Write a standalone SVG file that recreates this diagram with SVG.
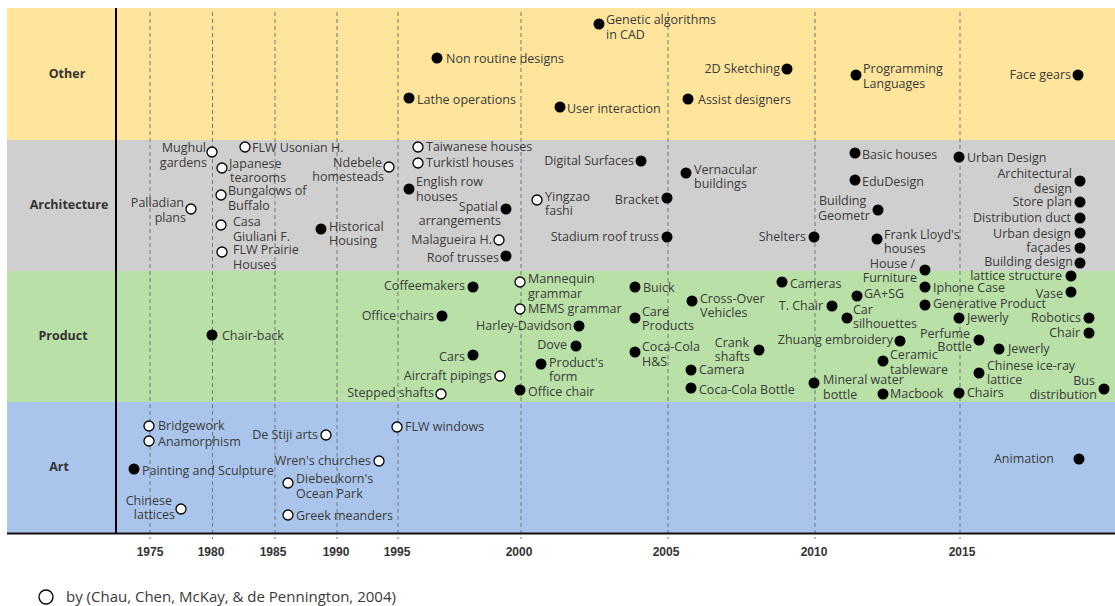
<svg xmlns="http://www.w3.org/2000/svg" width="1115" height="606" viewBox="0 0 1115 606">
<style>
.t{font-family:"Open Sans","Noto Sans","Liberation Sans",sans-serif;font-size:12.5px;fill:#3a3a3a}
.e{text-anchor:end}
.f{fill:#000}
.o{fill:#fff;stroke:#000;stroke-width:1.3}
.cat{font-family:"Open Sans","Liberation Sans",sans-serif;font-size:12.5px;font-weight:bold;fill:#333;text-anchor:middle}
.yr{font-family:"Liberation Sans",sans-serif;font-size:12px;font-weight:bold;fill:#333;text-anchor:middle}
.grid{stroke:#777;stroke-width:1;stroke-dasharray:4,3}
</style>
<rect width="1115" height="606" fill="#fff"/>
<g id="bands">
<rect x="7" y="8" width="1108" height="132" fill="#FEE59B"/>
<rect x="7" y="140" width="1108" height="131" fill="#D0CFCF"/>
<rect x="7" y="271" width="1108" height="131" fill="#B9E0A6"/>
<rect x="7" y="402" width="1108" height="131" fill="#AAC5EB"/>
</g>
<g id="grid">
<line class="grid" x1="150" y1="12" x2="150" y2="539"/>
<line class="grid" x1="212.5" y1="12" x2="212.5" y2="539"/>
<line class="grid" x1="275" y1="12" x2="275" y2="539"/>
<line class="grid" x1="337" y1="12" x2="337" y2="539"/>
<line class="grid" x1="398" y1="12" x2="398" y2="539"/>
<line class="grid" x1="521" y1="12" x2="521" y2="539"/>
<line class="grid" x1="668" y1="12" x2="668" y2="539"/>
<line class="grid" x1="815" y1="12" x2="815" y2="539"/>
<line class="grid" x1="960" y1="12" x2="960" y2="539"/>
</g>
<g id="axes">
<line x1="116" y1="8" x2="116" y2="534" stroke="#000" stroke-width="2"/>
<line x1="7" y1="533.5" x2="1115" y2="533.5" stroke="#111" stroke-width="2.2"/>
</g>
<g id="categories">
<text class="cat" x="67" y="78">Other</text>
<text class="cat" x="69" y="209">Architecture</text>
<text class="cat" x="63" y="340">Product</text>
<text class="cat" x="59" y="471">Art</text>
</g>
<g id="years">
<text class="yr" x="150" y="556">1975</text>
<text class="yr" x="211" y="556">1980</text>
<text class="yr" x="273" y="556">1985</text>
<text class="yr" x="336" y="556">1990</text>
<text class="yr" x="397" y="556">1995</text>
<text class="yr" x="519" y="556">2000</text>
<text class="yr" x="666" y="556">2005</text>
<text class="yr" x="814" y="556">2010</text>
<text class="yr" x="962" y="556">2015</text>
</g>
<g id="connectors"></g>
<!-- Other -->
<g id="n-genetic"><circle class="f" cx="599" cy="24" r="5.5"/><text class="t" x="606" y="24">Genetic algorithms<tspan x="606" y="39">in CAD</tspan></text></g>
<g id="n-nonroutine"><circle class="f" cx="437" cy="58" r="5.5"/><text class="t" x="446" y="63">Non routine designs</text></g>
<g id="n-sketch2d"><circle class="f" cx="787" cy="69" r="5.5"/><text class="t e" x="780" y="73">2D Sketching</text></g>
<g id="n-programming"><circle class="f" cx="856" cy="75" r="5.5"/><text class="t" x="863" y="73">Programming<tspan x="863" y="88">Languages</tspan></text></g>
<g id="n-facegears"><circle class="f" cx="1078" cy="75" r="5.5"/><text class="t e" x="1071" y="79">Face gears</text></g>
<g id="n-lathe"><circle class="f" cx="409" cy="98" r="5.5"/><text class="t" x="417" y="104">Lathe operations</text></g>
<g id="n-userinter"><circle class="f" cx="560" cy="107" r="5.5"/><text class="t" x="567" y="113">User interaction</text></g>
<g id="n-assist"><circle class="f" cx="688" cy="99" r="5.5"/><text class="t" x="698" y="104">Assist designers</text></g>
<!-- Architecture -->
<g id="n-mughul"><circle class="o" cx="212" cy="152" r="5"/><text class="t e" x="206" y="152">Mughul<tspan x="207" y="167">gardens</tspan></text></g>
<g id="n-usonian"><circle class="o" cx="245" cy="147" r="5"/><text class="t" x="252" y="152">FLW Usonian H.</text></g>
<g id="n-japanese"><circle class="o" cx="222" cy="168" r="5"/><text class="t" x="229" y="168">Japanese<tspan x="230" y="182">tearooms</tspan></text></g>
<g id="n-ndebele"><circle class="o" cx="389" cy="167" r="5"/><text class="t e" x="382" y="167">Ndebele<tspan x="384" y="181">homesteads</tspan></text></g>
<g id="n-bungalows"><circle class="o" cx="221" cy="195" r="5"/><text class="t" x="228" y="195">Bungalows of<tspan x="228" y="210">Buffalo</tspan></text></g>
<g id="n-palladian"><circle class="o" cx="191" cy="209" r="5"/><text class="t e" x="184" y="207">Palladian<tspan x="186" y="222">plans</tspan></text></g>
<g id="n-casa"><circle class="o" cx="221" cy="225" r="5"/><text class="t" x="233" y="226">Casa<tspan x="233" y="241">Giuliani F.</tspan></text></g>
<g id="n-historical"><circle class="f" cx="321" cy="229" r="5.5"/><text class="t" x="329" y="231">Historical<tspan x="329" y="245">Housing</tspan></text></g>
<g id="n-prairie"><circle class="o" cx="222" cy="252" r="5"/><text class="t" x="233" y="254">FLW Prairie<tspan x="233" y="269">Houses</tspan></text></g>
<g id="n-taiwanese"><circle class="o" cx="418" cy="147" r="5"/><text class="t" x="426" y="151">Taiwanese houses</text></g>
<g id="n-turkistl"><circle class="o" cx="418" cy="163" r="5"/><text class="t" x="426" y="167">Turkistl houses</text></g>
<g id="n-english"><circle class="f" cx="409" cy="189" r="5.5"/><text class="t" x="416" y="186">English row<tspan x="416" y="201">houses</tspan></text></g>
<g id="n-spatial"><circle class="f" cx="506" cy="209" r="5.5"/><text class="t e" x="498" y="211">Spatial<tspan x="501" y="225">arrangements</tspan></text></g>
<g id="n-yingzao"><circle class="o" cx="537" cy="200" r="5"/><text class="t" x="545" y="201">Yingzao<tspan x="545" y="215">fashi</tspan></text></g>
<g id="n-malagueira"><circle class="o" cx="499" cy="240" r="5"/><text class="t e" x="492" y="244">Malagueira H.</text></g>
<g id="n-roof"><circle class="f" cx="506" cy="256" r="5.5"/><text class="t e" x="499" y="262">Roof trusses</text></g>
<g id="n-digital"><circle class="f" cx="641" cy="161" r="5.5"/><text class="t e" x="634" y="165">Digital Surfaces</text></g>
<g id="n-bracket"><circle class="f" cx="667" cy="198" r="5.5"/><text class="t e" x="659" y="204">Bracket</text></g>
<g id="n-stadium"><circle class="f" cx="667" cy="237" r="5.5"/><text class="t e" x="659" y="241">Stadium roof truss</text></g>
<g id="n-vernacular"><circle class="f" cx="686" cy="173" r="5.5"/><text class="t" x="694" y="174">Vernacular<tspan x="694" y="188">buildings</tspan></text></g>
<g id="n-basic"><circle class="f" cx="855" cy="153" r="5.5"/><text class="t" x="862" y="159">Basic houses</text></g>
<g id="n-edudesign"><circle class="f" cx="855" cy="180" r="5.5"/><text class="t" x="862" y="186">EduDesign</text></g>
<g id="n-buildgeom"><circle class="f" cx="878" cy="210" r="5.5"/><text class="t" x="819" y="205">Building<tspan x="818" y="220">Geometr</tspan></text></g>
<g id="n-shelters"><circle class="f" cx="814" cy="237" r="5.5"/><text class="t e" x="806" y="241">Shelters</text></g>
<g id="n-franklloyd"><circle class="f" cx="877" cy="239" r="5.5"/><text class="t" x="884" y="239">Frank Lloyd's<tspan x="884" y="253">houses</tspan></text></g>
<g id="n-urbanDesign"><circle class="f" cx="959" cy="157" r="5.5"/><text class="t" x="967" y="162">Urban Design</text></g>
<g id="n-archdesign"><circle class="f" cx="1080" cy="181" r="5.5"/><text class="t e" x="1072" y="178">Architectural<tspan x="1072" y="193">design</tspan></text></g>
<g id="n-storeplan"><circle class="f" cx="1080" cy="202" r="5.5"/><text class="t e" x="1072" y="206">Store plan</text></g>
<g id="n-distduct"><circle class="f" cx="1080" cy="218" r="5.5"/><text class="t e" x="1071" y="222">Distribution duct</text></g>
<g id="n-urbandesign2"><circle class="f" cx="1080" cy="233" r="5.5"/><text class="t e" x="1071" y="238">Urban design</text></g>
<g id="n-facades"><circle class="f" cx="1080" cy="248" r="5.5"/><text class="t e" x="1071" y="252">façades</text></g>
<g id="n-buildingdesign"><circle class="f" cx="1080" cy="263" r="5.5"/><text class="t e" x="1073" y="266">Building design</text></g>
<g id="n-housefurniture"><circle class="f" cx="925" cy="270" r="5.5"/><text class="t e" x="915" y="268">House /<tspan x="917" y="282">Furniture</tspan></text></g>
<!-- Product -->
<g id="n-lattice"><circle class="f" cx="1071" cy="276" r="5.5"/><text class="t e" x="1062" y="280">lattice structure</text></g>
<g id="n-vase"><circle class="f" cx="1071" cy="292" r="5.5"/><text class="t e" x="1063" y="298">Vase</text></g>
<g id="n-cameras"><circle class="f" cx="782" cy="282" r="5.5"/><text class="t" x="790" y="288">Cameras</text></g>
<g id="n-gasg"><circle class="f" cx="857" cy="296" r="5.5"/><text class="t" x="864" y="298">GA+SG</text></g>
<g id="n-iphone"><circle class="f" cx="925" cy="287" r="5.5"/><text class="t" x="933" y="292">Iphone Case</text></g>
<g id="n-tchair"><circle class="f" cx="832" cy="306" r="5.5"/><text class="t e" x="823" y="310">T. Chair</text></g>
<g id="n-carsil"><circle class="f" cx="847" cy="318" r="5.5"/><text class="t" x="853" y="314">Car<tspan x="853" y="328">silhouettes</tspan></text></g>
<g id="n-genprod"><circle class="f" cx="925" cy="305" r="5.5"/><text class="t" x="933" y="308">Generative Product</text></g>
<g id="n-jewerly1"><circle class="f" cx="959" cy="318" r="5.5"/><text class="t" x="967" y="322">Jewerly</text></g>
<g id="n-robotics"><circle class="f" cx="1089" cy="318" r="5.5"/><text class="t e" x="1081" y="322">Robotics</text></g>
<g id="n-chair"><circle class="f" cx="1089" cy="333" r="5.5"/><text class="t e" x="1080" y="337">Chair</text></g>
<g id="n-zhuang"><circle class="f" cx="900" cy="341" r="5.5"/><text class="t e" x="893" y="344">Zhuang embroidery</text></g>
<g id="n-perfume"><circle class="f" cx="979" cy="340" r="5.5"/><text class="t e" x="970" y="338">Perfume<tspan x="972" y="351">Bottle</tspan></text></g>
<g id="n-jewerly2"><circle class="f" cx="999" cy="349" r="5.5"/><text class="t" x="1008" y="353">Jewerly</text></g>
<g id="n-ceramic"><circle class="f" cx="883" cy="361" r="5.5"/><text class="t" x="890" y="359">Ceramic<tspan x="890" y="374">tableware</tspan></text></g>
<g id="n-iceray"><circle class="f" cx="979" cy="373" r="5.5"/><text class="t" x="987" y="370">Chinese ice-ray<tspan x="987" y="384">lattice</tspan></text></g>
<g id="n-bus"><circle class="f" cx="1104" cy="389" r="5.5"/><text class="t e" x="1095" y="385">Bus<tspan x="1097" y="399">distribution</tspan></text></g>
<g id="n-mineral"><circle class="f" cx="814" cy="383" r="5.5"/><text class="t" x="823" y="384">Mineral water<tspan x="823" y="399">bottle</tspan></text></g>
<g id="n-macbook"><circle class="f" cx="883" cy="394" r="5.5"/><text class="t" x="890" y="398">Macbook</text></g>
<g id="n-chairs"><circle class="f" cx="959" cy="393" r="5.5"/><text class="t" x="967" y="397">Chairs</text></g>
<g id="n-coffee"><circle class="f" cx="473" cy="287" r="5.5"/><text class="t e" x="465" y="290">Coffeemakers</text></g>
<g id="n-officechairs"><circle class="f" cx="442" cy="316" r="5.5"/><text class="t e" x="434" y="320">Office chairs</text></g>
<g id="n-chairback"><circle class="f" cx="212" cy="335" r="5.5"/><text class="t" x="222" y="340">Chair-back</text></g>
<g id="n-cars"><circle class="f" cx="473" cy="355" r="5.5"/><text class="t e" x="465" y="361">Cars</text></g>
<g id="n-aircraft"><circle class="o" cx="500" cy="376" r="5"/><text class="t e" x="492" y="380">Aircraft pipings</text></g>
<g id="n-stepped"><circle class="o" cx="441" cy="394" r="5"/><text class="t e" x="434" y="397">Stepped shafts</text></g>
<g id="n-mannequin"><circle class="o" cx="520" cy="282" r="5"/><text class="t" x="528" y="283">Mannequin<tspan x="528" y="298">grammar</tspan></text></g>
<g id="n-mems"><circle class="o" cx="520" cy="309" r="5"/><text class="t" x="528" y="313">MEMS grammar</text></g>
<g id="n-harley"><circle class="f" cx="579" cy="326" r="5.5"/><text class="t e" x="572" y="330">Harley-Davidson</text></g>
<g id="n-dove"><circle class="f" cx="576" cy="346" r="5.5"/><text class="t e" x="567" y="349">Dove</text></g>
<g id="n-productform"><circle class="f" cx="541" cy="364" r="5.5"/><text class="t" x="549" y="367">Product's<tspan x="549" y="381">form</tspan></text></g>
<g id="n-officechair"><circle class="f" cx="520" cy="390" r="5.5"/><text class="t" x="528" y="396">Office chair</text></g>
<g id="n-buick"><circle class="f" cx="635" cy="287" r="5.5"/><text class="t" x="643" y="292">Buick</text></g>
<g id="n-care"><circle class="f" cx="635" cy="318" r="5.5"/><text class="t" x="642" y="316">Care<tspan x="642" y="330">Products</tspan></text></g>
<g id="n-cocahs"><circle class="f" cx="635" cy="352" r="5.5"/><text class="t" x="642" y="351">Coca-Cola<tspan x="642" y="366">H&amp;S</tspan></text></g>
<g id="n-crossover"><circle class="f" cx="692" cy="301" r="5.5"/><text class="t" x="700" y="303">Cross-Over<tspan x="700" y="317">Vehicles</tspan></text></g>
<g id="n-crank"><circle class="f" cx="759" cy="350" r="5.5"/><text class="t e" x="749" y="347">Crank<tspan x="750" y="361">shafts</tspan></text></g>
<g id="n-camera"><circle class="f" cx="691" cy="370" r="5.5"/><text class="t" x="699" y="374">Camera</text></g>
<g id="n-cocabottle"><circle class="f" cx="691" cy="388" r="5.5"/><text class="t" x="699" y="394">Coca-Cola Bottle</text></g>
<!-- Art -->
<g id="n-bridgework"><circle class="o" cx="149" cy="426" r="5"/><text class="t" x="158" y="430">Bridgework</text></g>
<g id="n-anamorph"><circle class="o" cx="149" cy="441" r="5"/><text class="t" x="158" y="446">Anamorphism</text></g>
<g id="n-painting"><circle class="f" cx="134" cy="469" r="5.5"/><text class="t" x="142" y="475">Painting and Sculpture</text></g>
<g id="n-chineselattices"><circle class="o" cx="181" cy="509" r="5"/><text class="t e" x="172" y="505">Chinese<tspan x="175" y="519">lattices</tspan></text></g>
<g id="n-destiji"><circle class="o" cx="326" cy="435" r="5"/><text class="t e" x="318" y="439">De Stiji arts</text></g>
<g id="n-wren"><circle class="o" cx="379" cy="461" r="5"/><text class="t e" x="371" y="465">Wren's churches</text></g>
<g id="n-diebeukorn"><circle class="o" cx="288" cy="483" r="5"/><text class="t" x="296" y="483">Diebeukorn's<tspan x="296" y="498">Ocean Park</tspan></text></g>
<g id="n-greek"><circle class="o" cx="288" cy="515" r="5"/><text class="t" x="296" y="520">Greek meanders</text></g>
<g id="n-flwwindows"><circle class="o" cx="397" cy="427" r="5"/><text class="t" x="405" y="431">FLW windows</text></g>
<g id="n-animation"><circle class="f" cx="1079" cy="459" r="5.5"/><text class="t e" x="1054" y="463">Animation</text></g>
<g id="legend"><circle class="o" cx="46" cy="597" r="7"/><text class="t" x="66" y="602" style="font-size:15px">by (Chau, Chen, McKay, &amp; de Pennington, 2004)</text></g>
</svg>
